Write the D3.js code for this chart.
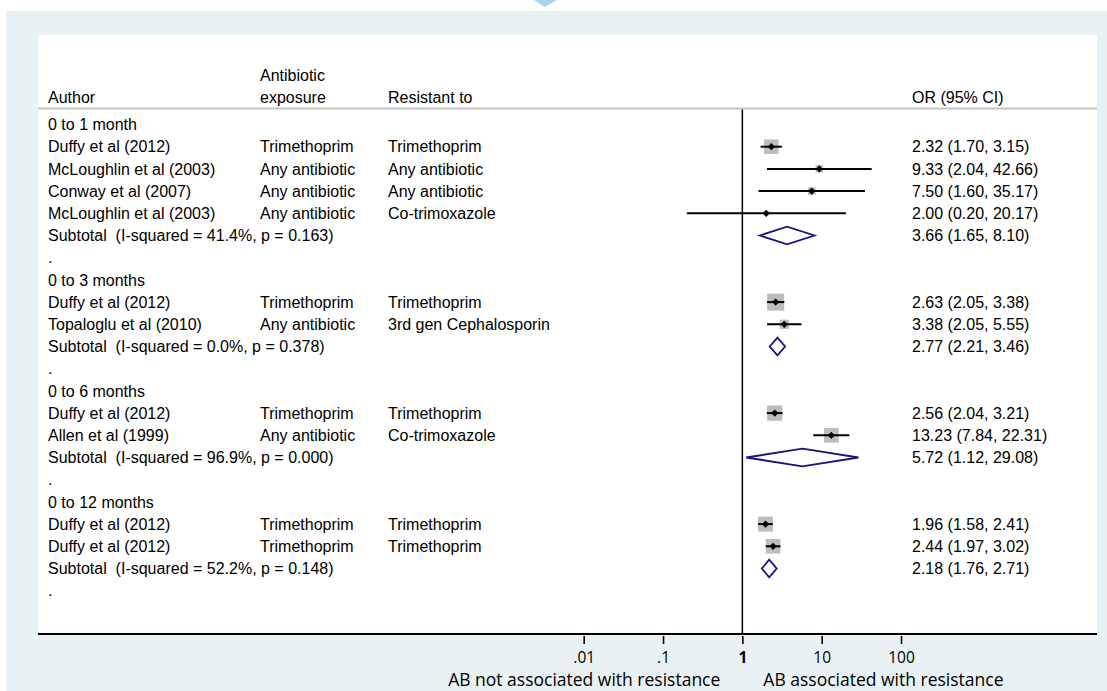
<!DOCTYPE html>
<html>
<head>
<meta charset="utf-8">
<script src="https://cdn.jsdelivr.net/npm/d3@7"></script>
<style>
	body { margin: 0; background: #ffffff; }
	text { font-family: "Liberation Sans", Arial, sans-serif; font-size: 16px; fill: #000; }
	.axis text { font-family: "Open Sans", Lato, sans-serif; font-size: 15.5px; }
	.fav { font-family: "Open Sans", Lato, sans-serif; font-size: 17.5px; }
</style>
</head>
<body>
<div id="chart"></div>
<script>
var groups = ["0 to 1 month", "0 to 3 months", "0 to 6 months", "0 to 12 months"];
var authors = ["Duffy et al (2012)", "McLoughlin et al (2003)", "Conway et al (2007)", "McLoughlin et al (2003)",
	"Duffy et al (2012)", "Topaloglu et al (2010)",
	"Duffy et al (2012)", "Allen et al (1999)",
	"Duffy et al (2012)", "Duffy et al (2012)"];
var exposure = ["Trimethoprim", "Any antibiotic", "Any antibiotic", "Any antibiotic",
	"Trimethoprim", "Any antibiotic",
	"Trimethoprim", "Any antibiotic",
	"Trimethoprim", "Trimethoprim"];
var resistant = ["Trimethoprim", "Any antibiotic", "Any antibiotic", "Co-trimoxazole",
	"Trimethoprim", "3rd gen Cephalosporin",
	"Trimethoprim", "Co-trimoxazole",
	"Trimethoprim", "Trimethoprim"];
var studyGroup = [0, 0, 0, 0, 1, 1, 2, 2, 3, 3];
var orValues = [2.32, 9.33, 7.50, 2.00, 2.63, 3.38, 2.56, 13.23, 1.96, 2.44];
var ciLow = [1.70, 2.04, 1.60, 0.20, 2.05, 2.05, 2.04, 7.84, 1.58, 1.97];
var ciHigh = [3.15, 42.66, 35.17, 20.17, 3.38, 5.55, 3.21, 22.31, 2.41, 3.02];
// relative weights (box area)
var weights = [21.0, 5.3, 5.9, 1.6, 28.9, 8.6, 23.4, 21.6, 22.5, 21.6];

var subOR = [3.66, 2.77, 5.72, 2.18];
var subLow = [1.65, 2.21, 1.12, 1.76];
var subHigh = [8.10, 3.46, 29.08, 2.71];
var iSquared = ["41.4%", "0.0%", "96.9%", "52.2%"];
var pValues = ["0.163", "0.378", "0.000", "0.148"];

var tickValues = [0.01, 0.1, 1, 10, 100];
var tickLabels = [".01", ".1", "1", "10", "100"];

var fmt = d3.format(".2f");

// build the list of rows in display order
var rows = [];
groups.forEach(function (g, gi) {
	rows.push({ type: "group", label: g });
	studyGroup.forEach(function (sg, i) {
		if (sg === gi) rows.push({ type: "study", i: i });
	});
	rows.push({ type: "sub", g: gi });
	rows.push({ type: "blank" });
});

var W = 1107, H = 691;
var svg = d3.select("#chart").append("svg")
	.attr("width", W)
	.attr("height", H);

// backgrounds
svg.append("rect").attr("x", 6).attr("y", 11).attr("width", W - 6).attr("height", H - 11).attr("fill", "#e9f1f4");
svg.append("polygon").attr("points", "534,0 557,0 545,7").attr("fill", "#a9d5ec");
var panel = { left: 38, right: 1097, top: 35, bottom: 634 };
svg.append("rect")
	.attr("x", panel.left).attr("y", panel.top)
	.attr("width", panel.right - panel.left)
	.attr("height", panel.bottom - panel.top)
	.attr("fill", "#fff");

var x = d3.scaleLog().domain([0.01, 100]).range([583.7, 901]);
var y = d3.scaleLinear().domain([0, rows.length - 1]).range([124.5, 124.5 + 22.2 * (rows.length - 1)]);
var box = d3.scaleSqrt().domain([0, d3.max(weights)]).range([0, 17]);

var cols = { author: 48, exposure: 260, resistant: 388, or: 912 };
var base = 5.6; // centre -> baseline

// header
var head = svg.append("g");
head.append("text").attr("x", cols.author).attr("y", 97 + base).text("Author");
head.append("text").attr("x", cols.exposure).attr("y", 75 + base).text("Antibiotic");
head.append("text").attr("x", cols.exposure).attr("y", 97 + base).text("exposure");
head.append("text").attr("x", cols.resistant).attr("y", 97 + base).text("Resistant to");
head.append("text").attr("x", cols.or).attr("y", 97 + base).text("OR (95% CI)");

svg.append("line")
	.attr("x1", panel.left).attr("x2", panel.right)
	.attr("y1", 108.5).attr("y2", 108.5)
	.attr("stroke", "#c4c4c4").attr("stroke-width", 2);

// line of no effect
svg.append("line")
	.attr("x1", x(1)).attr("x2", x(1))
	.attr("y1", 109.5).attr("y2", panel.bottom)
	.attr("stroke", "#000").attr("stroke-width", 1.5);

var rowG = svg.append("g").selectAll("g")
	.data(rows)
	.enter().append("g")
	.attr("transform", function (d, i) {
		return "translate(0," + y(i) + ")";
	});

// text columns
rowG.append("text")
	.attr("x", cols.author)
	.attr("y", base)
	.attr("xml:space", "preserve")
	.style("white-space", "pre")
	.text(function (d) {
		if (d.type === "group") return d.label;
		if (d.type === "study") return authors[d.i];
		if (d.type === "sub") return "Subtotal  (I-squared = " + iSquared[d.g] + ", p = " + pValues[d.g] + ")";
		return ".";
	});

var studies = rowG.filter(function (d) { return d.type === "study"; });
studies.append("text").attr("x", cols.exposure).attr("y", base).text(function (d) { return exposure[d.i]; });
studies.append("text").attr("x", cols.resistant).attr("y", base).text(function (d) { return resistant[d.i]; });
studies.append("text").attr("x", cols.or).attr("y", base).text(function (d) {
	return fmt(orValues[d.i]) + " (" + fmt(ciLow[d.i]) + ", " + fmt(ciHigh[d.i]) + ")";
});

// weight boxes
studies.append("rect")
	.attr("x", function (d) { return x(orValues[d.i]) - box(weights[d.i]) / 2; })
	.attr("y", function (d) { return -box(weights[d.i]) / 2; })
	.attr("width", function (d) { return box(weights[d.i]); })
	.attr("height", function (d) { return box(weights[d.i]); })
	.attr("fill", "#bdbdbd");

// CI lines
studies.append("line")
	.attr("x1", function (d) { return x(ciLow[d.i]); })
	.attr("x2", function (d) { return x(ciHigh[d.i]); })
	.attr("y1", 0).attr("y2", 0)
	.attr("stroke", "#000").attr("stroke-width", 2);

// point estimate
studies.append("path")
	.attr("d", function (d) {
		var cx = x(orValues[d.i]), r = 3.6;
		return "M" + (cx - r) + ",0L" + cx + "," + (-r) + "L" + (cx + r) + ",0L" + cx + "," + r + "Z";
	})
	.attr("fill", "#000");

var subs = rowG.filter(function (d) { return d.type === "sub"; });
subs.append("text").attr("x", cols.or).attr("y", base).text(function (d) {
	return fmt(subOR[d.g]) + " (" + fmt(subLow[d.g]) + ", " + fmt(subHigh[d.g]) + ")";
});
subs.append("path")
	.attr("d", function (d) {
		var h = 8.8;
		return "M" + x(subLow[d.g]) + ",0L" + x(subOR[d.g]) + "," + (-h) + "L" + x(subHigh[d.g]) + ",0L" + x(subOR[d.g]) + "," + h + "Z";
	})
	.attr("fill", "none")
	.attr("stroke", "#15157c")
	.attr("stroke-width", 1.8);

// x axis
svg.append("line")
	.attr("x1", panel.left).attr("x2", panel.right)
	.attr("y1", panel.bottom).attr("y2", panel.bottom)
	.attr("stroke", "#000").attr("stroke-width", 2);

var axis = svg.append("g")
	.attr("class", "axis")
	.attr("transform", "translate(0," + (panel.bottom + 2) + ")")
	.call(d3.axisBottom(x)
		.tickValues(tickValues)
		.tickFormat(function (d, i) { return tickLabels[i]; })
		.tickSize(8)
		.tickPadding(8));
axis.select(".domain").remove();
axis.selectAll(".tick line").attr("stroke", "#000").attr("stroke-width", 1.6);
axis.selectAll(".tick text").attr("fill", "#000")
	.style("font-weight", function (d) { return d === 1 ? "bold" : "normal"; });

svg.append("text")
	.attr("class", "fav")
	.attr("x", x(1) - 22).attr("y", 686)
	.attr("text-anchor", "end")
	.text("AB not associated with resistance");
svg.append("text")
	.attr("class", "fav")
	.attr("x", x(1) + 21).attr("y", 686)
	.attr("text-anchor", "start")
	.text("AB associated with resistance");
</script>
</body>
</html>
